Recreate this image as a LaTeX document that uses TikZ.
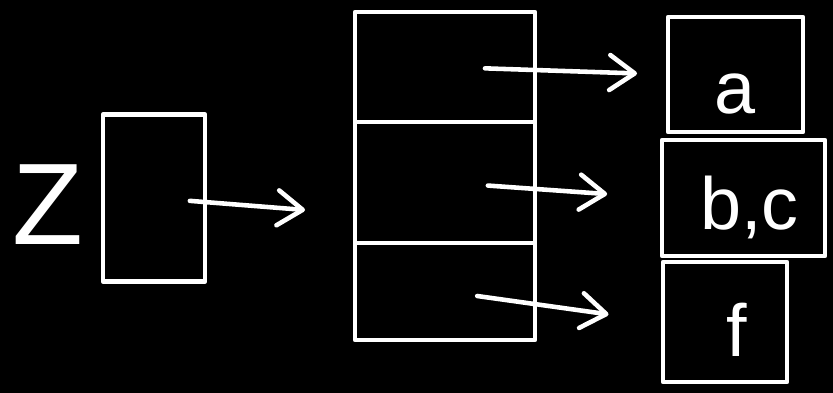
\documentclass[tikz,border=0pt]{standalone}
\usepackage{fontspec}
\setmainfont{Liberation Sans}
\usetikzlibrary{arrows.meta, positioning}
\definecolor{BoardBlack}{RGB}{0,0,0}
\definecolor{ChalkWhite}{RGB}{255,255,255}

\begin{document}
\begin{tikzpicture}[
  node distance=0pt,
  ink/.style={draw=ChalkWhite, line width=2.6pt, line cap=round, line join=round},
  box/.style={ink, minimum width=2.5cm, minimum height=2.3cm, outer sep=0pt},
  row/.style={ink, minimum width=3.6cm, outer sep=0pt},
  chalk/.style={text=ChalkWhite, font=\fontsize{42}{42}\selectfont},
  arr/.style={ink, -{Straight Barb[round, length=5mm, width=7mm]}}
]
  \fill[BoardBlack] (0,0) rectangle (16.66,-7.86);
  \useasboundingbox (0,0) rectangle (16.66,-7.86);

  % key and its hash
  \node[chalk, font=\fontsize{66}{66}\selectfont] (z) at (0.96,-4.10) {Z};
  \node[box, minimum width=2.04cm, minimum height=3.34cm] (key) at (3.08,-3.96) {};
  \coordinate (hook) at (6.1,-4.2);

  % table of slots
  \node[row, minimum height=2.2cm] (row1) at (8.9,-1.34) {};
  \node[row, minimum height=2.42cm, below=of row1] (row2) {};
  \node[row, minimum height=1.94cm, below=of row2] (row3) {};

  % buckets
  \node[box, minimum width=2.7cm, label={[chalk, yshift=-0.4cm]center:a}] (bucketA) at (14.71,-1.49) {};
  \node[box, minimum width=3.26cm, minimum height=2.32cm,
        label={[chalk, xshift=0.12cm, yshift=-0.18cm]center:b,c}] (bucketBC) at (14.87,-3.96) {};
  \node[box, minimum width=2.48cm, minimum height=2.4cm,
        label={[chalk, xshift=0.24cm, yshift=-0.16cm]center:f}] (bucketF) at (14.5,-6.44) {};

  \draw[arr, shorten <=0.72cm] (key.center) -- (hook);
  \draw[arr, shorten <=0.8cm, shorten >=0.62cm] (row1.center) -- (bucketA.west);
  \draw[arr, shorten <=0.86cm, shorten >=1.1cm] (row2.center) -- (bucketBC.west);
  \draw[arr, shorten <=0.65cm, shorten >=1.1cm] (row3.center) -- (bucketF.west);
\end{tikzpicture}
\end{document}
